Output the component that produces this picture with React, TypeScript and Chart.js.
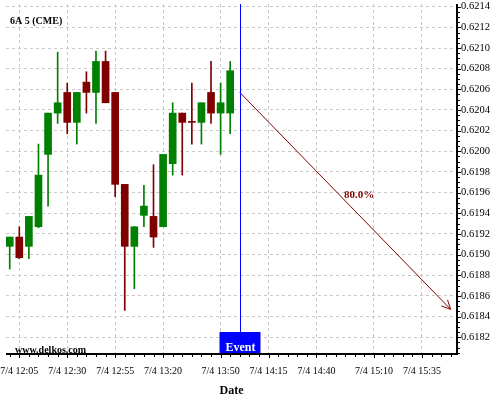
import React, { useEffect, useRef } from 'react';
import { Chart, registerables } from 'chart.js';

Chart.register(...registerables);

// ---- data ----
const chartTitle = '6A 5 (CME)';
const watermark = 'www.delkos.com';
const candleTimes = ['12:00', '12:05', '12:10', '12:15', '12:20', '12:25', '12:30', '12:35', '12:40', '12:45', '12:50', '12:55', '13:00', '13:05', '13:10', '13:15', '13:20', '13:25', '13:30', '13:35', '13:40', '13:45', '13:50', '13:55'];
const opens = [0.61908, 0.61917, 0.61908, 0.61927, 0.61997, 0.62037, 0.62057, 0.62028, 0.62067, 0.62057, 0.62087, 0.62057, 0.61968, 0.61908, 0.61938, 0.61937, 0.61927, 0.61988, 0.62037, 0.62028, 0.62028, 0.62057, 0.62037, 0.62037];
const highs = [0.61917, 0.61927, 0.61937, 0.62007, 0.62037, 0.62096, 0.62066, 0.62057, 0.62077, 0.62097, 0.62097, 0.62057, 0.61968, 0.61927, 0.61967, 0.61987, 0.61997, 0.62047, 0.62037, 0.62066, 0.62047, 0.62087, 0.62066, 0.62087];
const lows = [0.61886, 0.61896, 0.61896, 0.61926, 0.61947, 0.62027, 0.62017, 0.62007, 0.62037, 0.62027, 0.62047, 0.61956, 0.61846, 0.61867, 0.61927, 0.61907, 0.61927, 0.61977, 0.61977, 0.62007, 0.62007, 0.62027, 0.61997, 0.62017];
const closes = [0.61917, 0.61897, 0.61937, 0.61977, 0.62037, 0.62047, 0.62028, 0.62057, 0.62057, 0.62087, 0.62047, 0.61968, 0.61908, 0.61927, 0.61947, 0.61917, 0.61997, 0.62037, 0.62028, 0.62028, 0.62047, 0.62037, 0.62047, 0.62078];

const xTickTimes = ['12:05', '12:30', '12:55', '13:20', '13:50', '14:15', '14:40', '15:10', '15:35'];
const xTickLabels = ['7/4 12:05', '7/4 12:30', '7/4 12:55', '7/4 13:20', '7/4 13:50', '7/4 14:15', '7/4 14:40', '7/4 15:10', '7/4 15:35'];
const yTickValues = [0.6182, 0.6184, 0.6186, 0.6188, 0.619, 0.6192, 0.6194, 0.6196, 0.6198, 0.62, 0.6202, 0.6204, 0.6206, 0.6208, 0.621, 0.6212, 0.6214];

const eventTime = '14:00';
const eventLabel = 'Event';
const forecastTimes = ['14:00', '15:50'];
const forecastValues = [0.62057, 0.61847];
const forecastLabel = '80.0%';
const xAxisTitle = 'Date';

const xRange = ['11:58.06', '15:53.3'];
const yMin = 0.618038;
const yMax = 0.621426;

// ---- helpers ----
const toMin = (t: string) => {
  const [h, m] = t.split(':');
  return parseInt(h, 10) * 60 + parseFloat(m);
};

const GREEN = '#008000';
const RED = '#800000';
const FONT = "'Liberation Serif', 'Times New Roman', serif";

const extras = {
  id: 'extras',
  afterDraw(chart: any) {
    const { ctx, chartArea: a, scales } = chart;
    const x = scales.x;
    const y = scales.y;
    ctx.save();

    // event line
    const ex = Math.round(x.getPixelForValue(toMin(eventTime))) + 0.5;
    ctx.strokeStyle = '#0000ff';
    ctx.lineWidth = 1;
    ctx.beginPath();
    ctx.moveTo(ex, a.top);
    ctx.lineTo(ex, a.bottom);
    ctx.stroke();

    // event box
    ctx.fillStyle = '#0000ff';
    ctx.fillRect(ex - 21, a.bottom - 22, 41, 22);
    ctx.fillStyle = '#ffffff';
    ctx.font = `bold 12px ${FONT}`;
    ctx.textAlign = 'center';
    ctx.textBaseline = 'alphabetic';
    ctx.fillText(eventLabel, ex, a.bottom - 3.5);

    // axis lines
    ctx.strokeStyle = '#000';
    ctx.lineWidth = 2;
    ctx.beginPath();
    ctx.moveTo(a.left, a.bottom);
    ctx.lineTo(a.right + 1, a.bottom);
    ctx.moveTo(a.right, a.top);
    ctx.lineTo(a.right, a.bottom + 1);
    ctx.stroke();

    // y ticks (major + minor)
    ctx.lineWidth = 1;
    ctx.beginPath();
    const step = 0.00005;
    const k0 = Math.ceil(y.min / step - 1e-6);
    const k1 = Math.floor(y.max / step + 1e-6);
    for (let k = k0; k <= k1; k++) {
      const py = Math.round(y.getPixelForValue(k * step)) + 0.5;
      const major = k % 4 === 0;
      ctx.moveTo(a.right, py);
      ctx.lineTo(a.right + (major ? 4 : 3), py);
    }
    // x ticks (every 5 minutes)
    const majors = xTickTimes.map(toMin);
    const m0 = Math.ceil(x.min / 5) * 5;
    for (let m = m0; m <= x.max; m += 5) {
      const px = Math.round(x.getPixelForValue(m)) + 0.5;
      const major = majors.includes(m);
      ctx.moveTo(px, a.bottom);
      ctx.lineTo(px, a.bottom + (major ? 4 : 3));
    }
    ctx.stroke();

    // forecast arrowhead + label
    const p0x = x.getPixelForValue(toMin(forecastTimes[0]));
    const p0y = y.getPixelForValue(forecastValues[0]);
    const p1x = x.getPixelForValue(toMin(forecastTimes[1]));
    const p1y = y.getPixelForValue(forecastValues[1]);
    const ang = Math.atan2(p1y - p0y, p1x - p0x);
    const len = 10;
    ctx.strokeStyle = RED;
    ctx.lineWidth = 1;
    ctx.beginPath();
    ctx.moveTo(p1x - len * Math.cos(ang - 0.45), p1y - len * Math.sin(ang - 0.45));
    ctx.lineTo(p1x, p1y);
    ctx.lineTo(p1x - len * Math.cos(ang + 0.45), p1y - len * Math.sin(ang + 0.45));
    ctx.stroke();
    ctx.fillStyle = RED;
    ctx.font = `bold 11px ${FONT}`;
    ctx.textAlign = 'center';
    ctx.textBaseline = 'middle';
    ctx.fillText(forecastLabel, (p0x + p1x) / 2 + 14, (p0y + p1y) / 2 - 6);

    // title + watermark
    ctx.fillStyle = '#000';
    ctx.textAlign = 'left';
    ctx.textBaseline = 'alphabetic';
    ctx.font = `bold 10px ${FONT}`;
    ctx.fillText(chartTitle, 10, 23.5);
    ctx.fillText(watermark, 15, 352.5);

    ctx.restore();
  },
};

export default function App() {
  const ref = useRef<HTMLCanvasElement | null>(null);

  useEffect(() => {
    document.body.style.margin = '0';
    const canvas = ref.current;
    if (!canvas) return;

    const xs = candleTimes.map(toMin);
    const colors = closes.map((c, i) => (c > opens[i] ? GREEN : RED));
    const wickData = xs.map((t, i) => ({ x: t, y: [lows[i], highs[i]] }));
    const bodyData = xs.map((t, i) => ({ x: t, y: [Math.min(opens[i], closes[i]), Math.max(opens[i], closes[i])] }));
    const lineData = forecastTimes.map((t, i) => ({ x: toMin(t), y: forecastValues[i] }));
    const xTickMins = xTickTimes.map(toMin);

    const chart = new Chart(canvas, {
      type: 'bar',
      data: {
        datasets: [
          {
            type: 'bar',
            data: wickData as any,
            backgroundColor: colors,
            barThickness: 1,
            grouped: false,
            borderWidth: 0,
            order: 3,
          } as any,
          {
            type: 'bar',
            data: bodyData as any,
            backgroundColor: colors,
            barThickness: 7,
            grouped: false,
            borderWidth: 0,
            minBarLength: 1,
            order: 2,
          } as any,
          {
            type: 'line',
            data: lineData as any,
            borderColor: RED,
            borderWidth: 1,
            pointRadius: 0,
            fill: false,
            order: 1,
          } as any,
        ],
      },
      options: {
        animation: false,
        responsive: false,
        maintainAspectRatio: false,
        devicePixelRatio: 1,
        layout: { padding: { left: 6, top: 4, right: 0, bottom: 0 } },
        plugins: {
          legend: { display: false },
          tooltip: { enabled: false },
          title: { display: false },
        },
        scales: {
          x: {
            type: 'linear',
            offset: false,
            min: toMin(xRange[0]),
            max: toMin(xRange[1]),
            afterBuildTicks: (s: any) => {
              s.ticks = xTickMins.map((v) => ({ value: v }));
            },
            afterFit: (s: any) => {
              s.height = 46;
              s.paddingLeft = 0;
              s.paddingRight = 0;
            },
            ticks: {
              autoSkip: false,
              maxRotation: 0,
              padding: 11,
              color: '#000',
              font: { family: FONT, size: 10 },
              callback: (v: any) => xTickLabels[xTickMins.indexOf(Number(v))] ?? '',
            },
            grid: { color: '#c8c8c8', lineWidth: 1, drawTicks: false, offset: false },
            border: { display: false, dash: [3, 3] },
            title: {
              display: true,
              text: xAxisTitle,
              color: '#000',
              font: { family: FONT, size: 12, weight: 'bold' },
              padding: { top: 0, bottom: 2 },
            },
          },
          y: {
            type: 'linear',
            position: 'right',
            offset: false,
            min: yMin,
            max: yMax,
            afterBuildTicks: (s: any) => {
              s.ticks = yTickValues.map((v) => ({ value: v }));
            },
            afterFit: (s: any) => {
              s.width = 43;
              s.paddingTop = 0;
              s.paddingBottom = 0;
            },
            ticks: {
              padding: 4,
              color: '#000',
              font: { family: FONT, size: 10.5 },
              callback: (v: any) => Number(v).toFixed(4),
            },
            grid: { color: '#c8c8c8', lineWidth: 1, drawTicks: false, offset: false },
            border: { display: false, dash: [3, 3] },
          },
        },
      } as any,
      plugins: [extras],
    });

    return () => chart.destroy();
  }, []);

  return (
    <div style={{ width: 500, height: 400, background: '#fff' }}>
      <canvas ref={ref} width={500} height={400} style={{ display: 'block' }} />
    </div>
  );
}
